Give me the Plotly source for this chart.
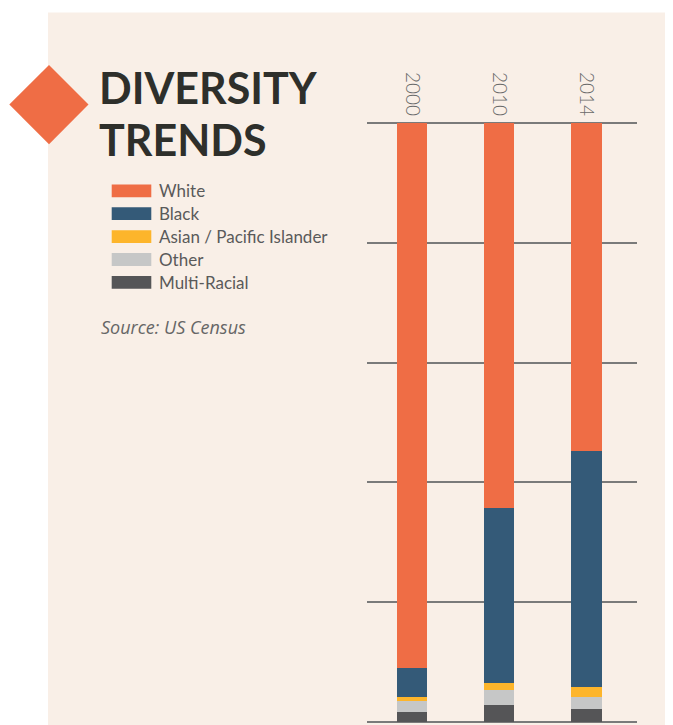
import plotly.graph_objects as go

years = ["2000", "2010", "2014"]
white = [91.0, 64.2, 54.8]
black = [4.8, 29.3, 39.4]
asian = [0.7, 1.1, 1.7]
other = [1.9, 2.5, 1.9]
multi = [1.6, 2.9, 2.2]

# legend order, top to bottom
groups = ["White", "Black", "Asian / Pacific Islander", "Other", "Multi-Racial"]
colors = {
    "White": "#EF6D45",
    "Black": "#345A78",
    "Asian / Pacific Islander": "#FDB52B",
    "Other": "#C6C7C7",
    "Multi-Racial": "#555557",
}
values = {
    "White": white,
    "Black": black,
    "Asian / Pacific Islander": asian,
    "Other": other,
    "Multi-Racial": multi,
}

# the page body has an 8px margin, so the figure is drawn 8px in
OFF = 8
W, H = 673 - OFF, 725 - OFF
# plot box in window pixels (y range padded by 0.5 so both end gridlines show)
L, R, T, B = 367, 637, 120, 725
PANEL = "#F9EFE7"


def px(x):
    return (x - L) / (R - L)


def py(y):
    return (B - y) / (B - T)


fig = go.Figure()

# stacked from the bottom up
for name in reversed(groups):
    fig.add_trace(go.Bar(
        x=years,
        y=values[name],
        name=name,
        marker={'color': colors[name], 'line': {'width': 0}},
        width=0.345,
        showlegend=False,
        hoverinfo='x+y+name',
    ))

shapes = [
    # cream panel
    dict(type='rect', xref='paper', yref='paper', layer='below',
         x0=px(48), x1=px(700), y0=py(12.5), y1=py(760),
         fillcolor=PANEL, line={'width': 0}),
    # diamond
    dict(type='path', xref='paper', yref='paper', layer='above',
         path=f'M {px(49)} {py(65)} L {px(88.5)} {py(104.5)} L {px(49)} {py(144.3)} '
              f'L {px(9.3)} {py(104.5)} Z',
         fillcolor='#EF6D45', line={'width': 0}),
]

annotations = [
    dict(text='<b>DIVERSITY</b>', xref='paper', yref='paper', x=px(97), y=py(87),
         xanchor='left', yanchor='middle', showarrow=False,
         font={'family': 'Lato', 'size': 43, 'color': '#2E2F2B'}),
    dict(text='<b>TRENDS</b>', xref='paper', yref='paper', x=px(97), y=py(139),
         xanchor='left', yanchor='middle', showarrow=False,
         font={'family': 'Lato', 'size': 43, 'color': '#2E2F2B'}),
    dict(text='<i>Source: US Census</i>', xref='paper', yref='paper', x=px(99), y=py(326.5),
         xanchor='left', yanchor='middle', showarrow=False,
         font={'family': 'Open Sans', 'size': 18, 'color': '#666666'}),
]

# hand-made legend with wide swatches
for i, name in enumerate(groups):
    yc = 190.8 + i * 22.9
    shapes.append(dict(type='rect', xref='paper', yref='paper',
                       x0=px(111.7), x1=px(151.3), y0=py(yc - 6.4), y1=py(yc + 6.4),
                       fillcolor=colors[name], line={'width': 0}))
    annotations.append(dict(text=name, xref='paper', yref='paper', x=px(157), y=py(yc),
                            xanchor='left', yanchor='middle', showarrow=False,
                            font={'family': 'Lato', 'size': 17, 'color': '#5A5A5A'}))

fig.update_layout(
    width=W,
    height=H,
    barmode='stack',
    paper_bgcolor='white',
    plot_bgcolor='rgba(0,0,0,0)',
    margin={'l': L - OFF, 'r': 673 - R, 't': T - OFF, 'b': 725 - B, 'pad': 0},
    shapes=shapes,
    annotations=annotations,
    xaxis={
        'type': 'category',
        'side': 'top',
        'range': [-0.52, 2.58],
        'tickangle': 90,
        'showgrid': False,
        'zeroline': False,
        'showline': False,
        'ticks': '',
        'ticklabelstandoff': 0,
        'tickfont': {'family': 'Lato', 'size': 19, 'color': '#6A6A6A', 'weight': 300},
    },
    yaxis={
        'range': [-0.5, 100.5],
        'tickvals': [0, 20, 40, 60, 80, 100],
        'showgrid': True,
        'gridcolor': '#7A7A7A',
        'gridwidth': 1.5,
        'zeroline': False,
        'showticklabels': False,
        'fixedrange': True,
    },
    showlegend=False,
)

fig.write_html("out.html")
